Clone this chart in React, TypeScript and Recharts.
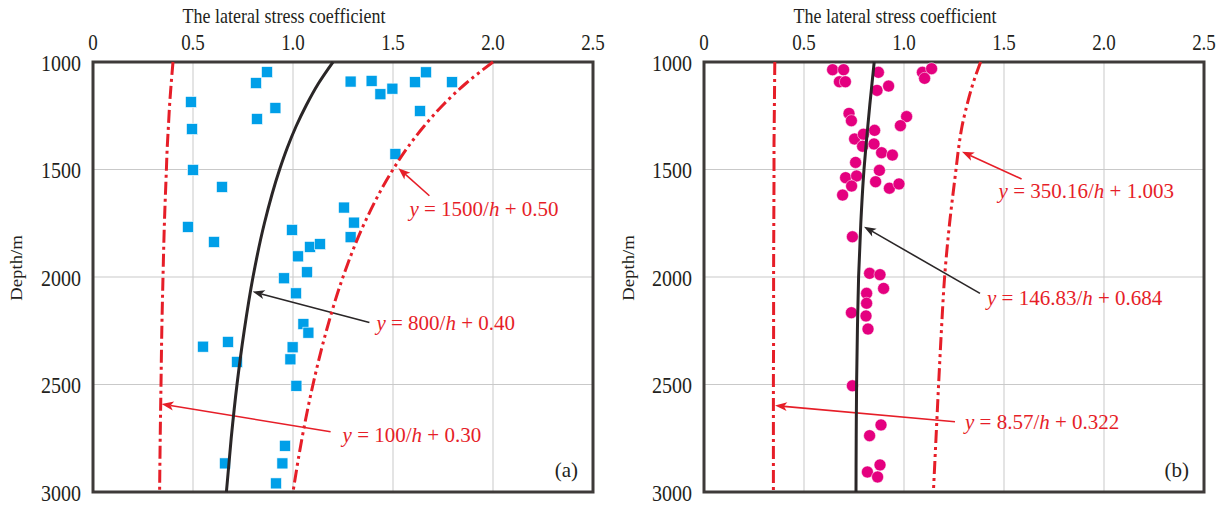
import React from "react";
import {
  ScatterChart, Scatter, XAxis, YAxis, CartesianGrid, ReferenceLine, ReferenceArea,
} from "recharts";

const FONT = '"Liberation Serif", "Times New Roman", serif';
const TEXT = "#231f20";
const RED = "#e61e28";
const BLACK = "#2a2627";
const FRAME = "#3e3a39";
const GRID = "#c9c9c9";
const BLUE = "#009fe8";
const MAGENTA = "#e4007f";

const X_TICKS = [0, 0.5, 1, 1.5, 2, 2.5];
const DEPTH_TICKS = [1000, 1500, 2000, 2500, 3000];
const CURVE_DEPTHS = [1000, 1100, 1200, 1300, 1400, 1500, 1750, 2000, 2250, 2500, 2750, 3000];

// panel (a) envelope curves, read along CURVE_DEPTHS
const lowerA = [0.4, 0.391, 0.383, 0.377, 0.371, 0.367, 0.357, 0.35, 0.344, 0.34, 0.336, 0.333];
const midA = [1.2, 1.127, 1.067, 1.015, 0.971, 0.933, 0.857, 0.8, 0.756, 0.72, 0.691, 0.667];
const upperA = [2.0, 1.864, 1.75, 1.654, 1.571, 1.5, 1.357, 1.25, 1.167, 1.1, 1.045, 1.0];

// panel (a) measured points [coefficient, depth]
const squaresA: [number, number][] = [
  [0.87, 1047], [0.815, 1098], [0.49, 1186], [0.912, 1214], [0.82, 1265], [0.495, 1312],
  [0.5, 1502], [0.645, 1581], [0.475, 1767], [0.605, 1837], [0.995, 1781], [1.025, 1904],
  [1.085, 1860], [1.135, 1847], [1.07, 1978], [0.955, 2006], [1.015, 2076], [1.052, 2219],
  [1.077, 2259], [0.55, 2324], [0.675, 2302], [0.72, 2395], [0.998, 2327], [0.987, 2383],
  [1.017, 2506], [0.96, 2785], [0.947, 2867], [0.66, 2867], [0.915, 2960], [1.288, 1091],
  [1.393, 1088], [1.437, 1150], [1.497, 1124], [1.61, 1094], [1.665, 1048], [1.795, 1094],
  [1.635, 1228], [1.512, 1428], [1.255, 1677], [1.305, 1747], [1.288, 1815],
];

// panel (b) envelope curves, read along CURVE_DEPTHS
const lowerB = [0.354, 0.353, 0.352, 0.351, 0.35, 0.35, 0.349, 0.348, 0.348, 0.347, 0.347, 0.347];
const midB = [0.851, 0.84, 0.829, 0.819, 0.809, 0.8, 0.784, 0.773, 0.767, 0.763, 0.761, 0.76];
const upperB = [1.383, 1.345, 1.315, 1.29, 1.273, 1.26, 1.228, 1.203, 1.187, 1.173, 1.16, 1.147];

// panel (b) measured points [coefficient, depth]
const circlesB: [number, number][] = [
  [0.643, 1036], [0.698, 1036], [0.677, 1092], [0.707, 1092], [0.872, 1048], [0.865, 1132],
  [0.923, 1112], [1.092, 1048], [1.138, 1031], [1.103, 1076], [0.725, 1239], [0.737, 1273],
  [1.013, 1254], [0.982, 1296], [0.753, 1358], [0.797, 1336], [0.853, 1318], [0.793, 1392],
  [0.85, 1381], [0.888, 1422], [0.942, 1433], [0.758, 1467], [0.877, 1504], [0.708, 1538],
  [0.763, 1530], [0.738, 1577], [0.858, 1557], [0.927, 1587], [0.975, 1567], [0.693, 1619],
  [0.742, 1813], [0.828, 1983], [0.88, 1989], [0.898, 2053], [0.813, 2076], [0.813, 2122],
  [0.737, 2166], [0.81, 2181], [0.82, 2242], [0.742, 2506], [0.885, 2688], [0.828, 2738],
  [0.88, 2874], [0.817, 2907], [0.868, 2930],
];

type Note = {
  tail: [number, number];
  tip: [number, number];
  a: string;
  b: string;
  color: string;
  dx: number;
  dy: number;
};

const notesA: Note[] = [
  { tail: [1.682, 1622], tip: [1.527, 1494], a: "1500", b: "0.50", color: RED, dx: -20, dy: 20 },
  { tail: [1.382, 2212], tip: [0.798, 2068], a: "800", b: "0.40", color: BLACK, dx: 7, dy: 7 },
  { tail: [1.188, 2720], tip: [0.343, 2591], a: "100", b: "0.30", color: RED, dx: 12, dy: 10 },
];

const notesB: Note[] = [
  { tail: [1.588, 1544], tip: [1.29, 1417], a: "350.16", b: "1.003", color: RED, dx: -23, dy: 19 },
  { tail: [1.38, 2076], tip: [0.8, 1766], a: "146.83", b: "0.684", color: BLACK, dx: 7, dy: 12 },
  { tail: [1.255, 2673], tip: [0.355, 2598], a: "8.57", b: "0.322", color: RED, dx: 10, dy: 7 },
];

const toCurve = (xs: number[]) => CURVE_DEPTHS.map((d, i) => ({ x: xs[i], d }));
const toPoints = (pts: [number, number][]) => pts.map(([x, d]) => ({ x, d }));

const noDot = () => <g />;

const squareShape = (p: any) => (
  <rect x={p.cx - 5.5} y={p.cy - 5.5} width={11} height={11} fill={BLUE} stroke="#ffffff" strokeWidth={0.6} />
);
const circleShape = (p: any) => (
  <circle cx={p.cx} cy={p.cy} r={6} fill={MAGENTA} stroke="#ffffff" strokeWidth={0.5} />
);

// the original figure's lettering is a little taller than it is wide
const xTick = (p: any) => {
  const v = p.payload.value as number;
  return (
    <text transform={`translate(${p.x},${p.y}) scale(1,1.2)`} textAnchor="middle" fontSize={19} fontFamily={FONT} fill={TEXT}>
      {v === 0 ? "0" : v.toFixed(1)}
    </text>
  );
};

const yTick = (p: any) => (
  <text transform={`translate(${p.x},${p.y}) scale(1,1.15)`} y={7.4} textAnchor="end" fontSize={20} fontFamily={FONT} fill={TEXT}>
    {p.payload.value}
  </text>
);

function arrowShape(note: Note) {
  return (p: any) => {
    const { x1, y1, x2, y2 } = p;
    const ang = Math.atan2(y2 - y1, x2 - x1);
    const L = 12;
    const W = 4.5;
    const bx = x2 - L * Math.cos(ang);
    const by = y2 - L * Math.sin(ang);
    const nx = -Math.sin(ang) * W;
    const ny = Math.cos(ang) * W;
    const mx = x2 - (L - 3) * Math.cos(ang);
    const my = y2 - (L - 3) * Math.sin(ang);
    return (
      <g>
        <line x1={x1} y1={y1} x2={mx} y2={my} stroke={note.color} strokeWidth={1.6} />
        <polygon
          points={`${x2},${y2} ${bx + nx},${by + ny} ${mx},${my} ${bx - nx},${by - ny}`}
          fill={note.color}
        />
        <text x={x1 + note.dx} y={y1 + note.dy} fontSize={21} fontFamily={FONT} fill={RED}>
          <tspan fontStyle="italic">y</tspan>
          <tspan>{" = " + note.a + "/"}</tspan>
          <tspan fontStyle="italic">h</tspan>
          <tspan>{" + " + note.b}</tspan>
        </text>
      </g>
    );
  };
}

type PanelProps = {
  tag: string;
  lower: number[];
  mid: number[];
  upper: number[];
  points: [number, number][];
  shape: (p: any) => React.ReactElement;
  notes: Note[];
  yWidth: number;
  right: number;
  upperDash: string;
};

function Panel({ tag, lower, mid, upper, points, shape, notes, yWidth, right, upperDash }: PanelProps) {
  return (
    <ScatterChart width={612} height={505} margin={{ top: 0, right, bottom: 13, left: 0 }}>
      <CartesianGrid stroke={GRID} strokeWidth={1} />
      <XAxis
        type="number"
        dataKey="x"
        orientation="top"
        height={62}
        domain={[0, 2.5]}
        ticks={X_TICKS}
        axisLine={false}
        tickLine={false}
        tickSize={10}
        tickMargin={2}
        tick={xTick}
        label={(props: any) => {
          const vb = props.viewBox || { x: yWidth };
          return (
            <text transform={`translate(${vb.x + 191},23) scale(1,1.22)`} textAnchor="middle" fontSize={18} fontFamily={FONT} fill={TEXT}>
              The lateral stress coefficient
            </text>
          );
        }}
      />
      <YAxis
        type="number"
        dataKey="d"
        width={yWidth}
        reversed
        domain={[1000, 3000]}
        ticks={DEPTH_TICKS}
        axisLine={false}
        tickLine={false}
        tickSize={10}
        tickMargin={2}
        tick={yTick}
        label={() => (
          <text transform="translate(22,268) rotate(-90) scale(1.1,1)" textAnchor="middle" fontSize={17} fontFamily={FONT} fill={TEXT}>
            Depth/m
          </text>
        )}
      />
      <Scatter data={toPoints(points)} shape={shape} isAnimationActive={false} />
      <Scatter
        data={toCurve(lower)}
        shape={noDot}
        line={{ stroke: RED, strokeWidth: 3, strokeDasharray: "13 4 3 4" }}
        lineJointType="monotoneY"
        isAnimationActive={false}
      />
      <Scatter
        data={toCurve(upper)}
        shape={noDot}
        line={{ stroke: RED, strokeWidth: 3, strokeDasharray: upperDash }}
        lineJointType="monotoneY"
        isAnimationActive={false}
      />
      <Scatter
        data={toCurve(mid)}
        shape={noDot}
        line={{ stroke: BLACK, strokeWidth: 3 }}
        lineJointType="monotoneY"
        isAnimationActive={false}
      />
      {notes.map((n, i) => (
        <ReferenceLine
          key={i}
          segment={[{ x: n.tail[0], y: n.tail[1] }, { x: n.tip[0], y: n.tip[1] }]}
          shape={arrowShape(n)}
          ifOverflow="visible"
        />
      ))}
      <ReferenceArea
        x1={0}
        x2={2.5}
        y1={1000}
        y2={3000}
        fill="none"
        fillOpacity={0}
        stroke={FRAME}
        strokeWidth={3}
        ifOverflow="visible"
        label={{ value: tag, position: "insideBottomRight", offset: 15, fontSize: 21, fill: TEXT, fontFamily: FONT }}
      />
    </ScatterChart>
  );
}

export default function App() {
  return (
    <div style={{ position: "absolute", left: 0, top: 0, width: 1224, height: 505, background: "#ffffff", fontFamily: FONT }}>
      <div style={{ position: "absolute", left: 0, top: 0 }}>
        <Panel
          tag="(a)"
          lower={lowerA}
          mid={midA}
          upper={upperA}
          points={squaresA}
          shape={squareShape}
          notes={notesA}
          yWidth={93}
          right={19}
          upperDash="13 4 3 4 3 4"
        />
      </div>
      <div style={{ position: "absolute", left: 612, top: 0 }}>
        <Panel
          tag="(b)"
          lower={lowerB}
          mid={midB}
          upper={upperB}
          points={circlesB}
          shape={circleShape}
          notes={notesB}
          yWidth={92}
          right={20}
          upperDash="13 4 3 4 3 4"
        />
      </div>
    </div>
  );
}
